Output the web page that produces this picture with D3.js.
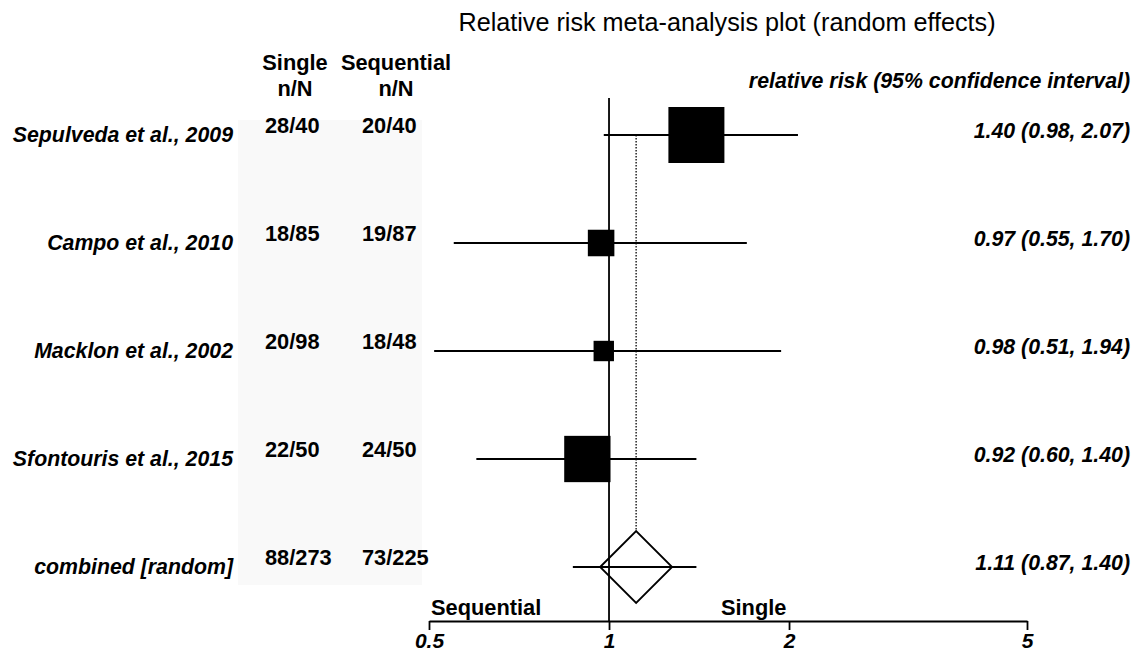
<!DOCTYPE html>
<html>
<head>
<meta charset="utf-8">
<script src="https://cdn.jsdelivr.net/npm/d3@7"></script>
<style>
  body { margin: 0; background: #fff; }
  svg { display: block; font-family: "Liberation Sans", Arial, sans-serif; }
  .lbl { font-weight: bold; font-style: italic; font-size: 21.3px; }
  .num { font-weight: bold; font-size: 21.8px; }
</style>
</head>
<body>
<svg id="chart" width="1135" height="653"></svg>
<script>
  // study data
  var studies = ["Sepulveda et al., 2009", "Campo et al., 2010", "Macklon et al., 2002", "Sfontouris et al., 2015"];
  var singleN = ["28/40", "18/85", "20/98", "22/50"];
  var sequentialN = ["20/40", "19/87", "18/48", "24/50"];
  var rr = [1.40, 0.97, 0.98, 0.92];
  var lower = [0.98, 0.55, 0.51, 0.60];
  var upper = [2.07, 1.70, 1.94, 1.40];
  var weights = [49, 11, 6.5, 33.5];

  var pooledLabel = "combined [random]";
  var pooledSingle = "88/273";
  var pooledSequential = "73/225";
  var pooled = 1.11, pooledLower = 0.87, pooledUpper = 1.40;

  var tickValues = [0.5, 1, 2, 5];

  var svg = d3.select("#chart");

  var x = d3.scaleLog().domain([0.5, 5]).range([429, 1027]);
  var rows = studies.concat([pooledLabel]);
  var y = d3.scalePoint().domain(d3.range(rows.length)).range([135, 567]);
  var size = d3.scaleSqrt().domain([0, d3.max(weights)]).range([0, 56]);

  function fmt(v) { return v.toFixed(2); }

  // light grey panel behind the counts
  svg.append("rect")
    .attr("x", 238).attr("y", 120)
    .attr("width", 184).attr("height", 465)
    .attr("fill", "#f9f9f9");

  // title
  svg.append("text")
    .attr("x", 727).attr("y", 31)
    .attr("text-anchor", "middle")
    .attr("font-size", "25.2px")
    .text("Relative risk meta-analysis plot (random effects)");

  // column headers
  [["Single", 295], ["Sequential", 396]].forEach(function(h) {
    var t = svg.append("text").attr("class", "num").attr("text-anchor", "middle");
    t.append("tspan").attr("x", h[1]).attr("y", 70).text(h[0]);
    t.append("tspan").attr("x", h[1]).attr("y", 96).text("n/N");
  });

  svg.append("text")
    .attr("class", "lbl")
    .attr("x", 1130).attr("y", 88)
    .attr("text-anchor", "end")
    .text("relative risk (95% confidence interval)");

  // reference line at 1
  svg.append("line")
    .attr("x1", x(1)).attr("x2", x(1))
    .attr("y1", 98).attr("y2", 621)
    .attr("stroke", "#000").attr("stroke-width", 1.8);

  // dotted line at pooled estimate
  svg.append("line")
    .attr("x1", x(pooled)).attr("x2", x(pooled))
    .attr("y1", y(0)).attr("y2", y(4) - 36)
    .attr("stroke", "#000").attr("stroke-width", 1.3)
    .attr("stroke-dasharray", "1.5,1.5");

  // row texts
  rows.forEach(function(name, i) {
    var isPool = i === studies.length;
    var cy = y(i);
    svg.append("text").attr("class", "lbl")
      .attr("x", 233).attr("y", cy + 7)
      .attr("text-anchor", "end")
      .text(name);
    svg.append("text").attr("class", "num")
      .attr("x", 265).attr("y", cy - 2)
      .text(isPool ? pooledSingle : singleN[i]);
    svg.append("text").attr("class", "num")
      .attr("x", 362).attr("y", cy - 2)
      .text(isPool ? pooledSequential : sequentialN[i]);
    var est = isPool ? pooled : rr[i],
        lo = isPool ? pooledLower : lower[i],
        hi = isPool ? pooledUpper : upper[i];
    svg.append("text").attr("class", "lbl")
      .attr("x", 1130).attr("y", cy + 3)
      .attr("text-anchor", "end")
      .text(fmt(est) + " (" + fmt(lo) + ", " + fmt(hi) + ")");
  });

  // confidence interval lines and squares
  studies.forEach(function(s, i) {
    svg.append("line")
      .attr("x1", x(lower[i])).attr("x2", x(upper[i]))
      .attr("y1", y(i)).attr("y2", y(i))
      .attr("stroke", "#000").attr("stroke-width", 1.8);
    var s2 = size(weights[i]);
    svg.append("rect")
      .attr("x", x(rr[i]) - s2 / 2).attr("y", y(i) - s2 / 2)
      .attr("width", s2).attr("height", s2)
      .attr("fill", "#000");
  });

  // pooled line and diamond
  var py = y(4), px = x(pooled), dh = 36;
  svg.append("line")
    .attr("x1", x(pooledLower)).attr("x2", x(pooledUpper))
    .attr("y1", py).attr("y2", py)
    .attr("stroke", "#000").attr("stroke-width", 1.8);
  svg.append("path")
    .attr("d", "M" + (px - dh) + "," + py + "L" + px + "," + (py - dh) +
               "L" + (px + dh) + "," + py + "L" + px + "," + (py + dh) + "Z")
    .attr("fill", "none").attr("stroke", "#000").attr("stroke-width", 1.8);

  // axis
  var axis = d3.axisBottom(x)
    .tickValues(tickValues)
    .tickFormat(function(d) { return String(d); })
    .tickSize(9)
    .tickSizeOuter(0);
  var gAxis = svg.append("g")
    .attr("transform", "translate(0,621)")
    .call(axis);
  gAxis.select(".domain").attr("stroke-width", 1.8);
  gAxis.selectAll(".tick line").attr("stroke-width", 1.8);
  gAxis.selectAll(".tick text")
    .attr("y", 27)
    .attr("dy", 0)
    .attr("font-family", "Liberation Sans, Arial, sans-serif")
    .attr("font-size", "21px")
    .attr("font-weight", "bold")
    .attr("font-style", "italic")
    .attr("fill", "#000");

  svg.append("text").attr("class", "num")
    .attr("x", 431).attr("y", 615)
    .text("Sequential");
  svg.append("text").attr("class", "num")
    .attr("x", 721).attr("y", 615)
    .text("Single");
</script>
</body>
</html>
